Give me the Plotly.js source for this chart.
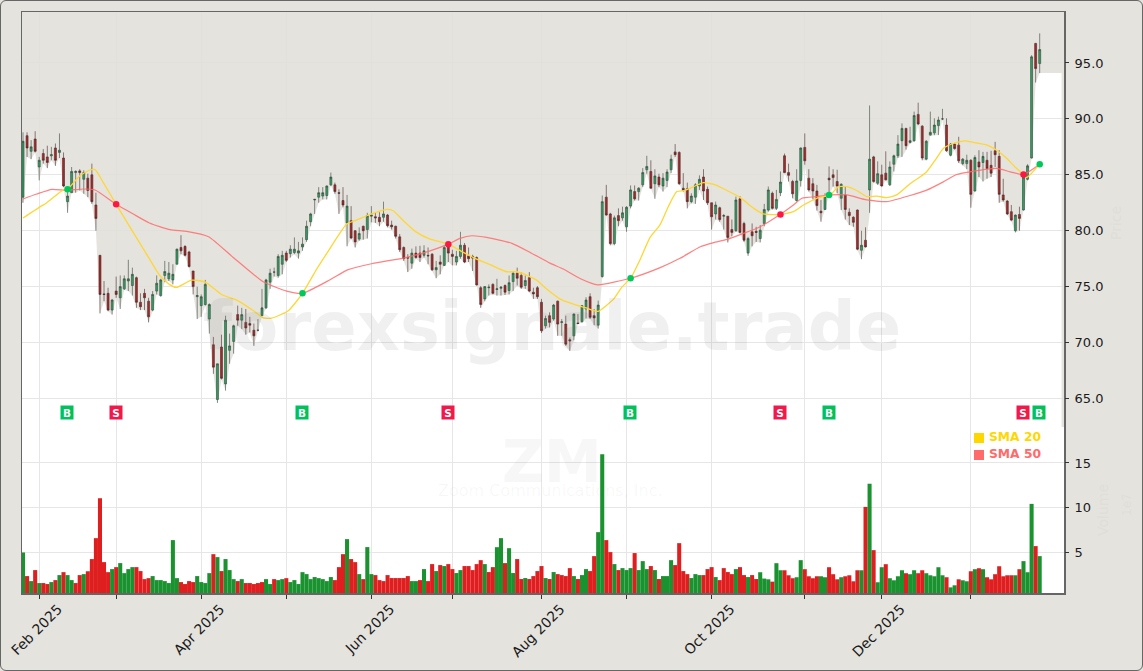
<!DOCTYPE html>
<html>
<head>
<meta charset="utf-8">
<script src="https://cdn.plot.ly/plotly-3.0.1.min.js"></script>
<style>
html,body{margin:0;padding:0;background:#fff;}
#wrap{position:relative;width:1143px;height:671px;overflow:hidden;}
#chart{position:absolute;left:0;top:0;width:1143px;height:671px;}
#frame{position:absolute;left:0;top:0;width:1143px;height:671px;box-sizing:border-box;border:1.5px solid #666;border-radius:6px;pointer-events:none;}
</style>
</head>
<body>
<div id="wrap"><div id="chart"></div><div id="frame"></div></div>
<script>
const opens=[83,88.5,87.1,88.2,85.7,86.9,86.6,86.7,87.4,87.0,
86.5,82.6,83.4,85.2,85.35,84.6,84.7,85.0,82.3,77.8,
74.35,74.4,72.9,74.6,74.0,74.8,75.5,75.1,75.8,73.6,
74.4,73.7,72.9,74.6,74.2,76.0,75.7,75.6,77,78.5,
78.6,78.1,76.4,74.1,73.3,73.4,72.1,69.8,64.9,69.6,
66.3,69.3,70.1,72.5,72,71.8,71.7,71.1,71.1,72.4,
73.1,75.4,76.3,76,77,78,77.95,78.05,78,78.55,
79.2,80.8,82.75,83,83.1,83.15,84.1,84.1,83.4,82.7,
80.7,80.9,80,79.25,80.4,80.1,81.3,81.25,81.2,81.2,
81.4,80.5,80.4,79.45,78.5,77.6,77.1,78,78,77.8,
77.8,77.9,76.5,77.2,76.9,78.8,77.9,77.2,77.7,78.7,
77.75,77.7,77.6,74.9,73.9,74.9,75.2,74.75,74.85,75.1,
74.65,75.45,76.2,76,75.1,75.8,74.5,74.9,73.6,71.5,
72.4,72.1,73.7,71.8,71.65,70.25,70.6,71.75,71.85,73,
74.1,72.4,71.55,75.9,83,81.5,78.85,81.35,81.15,80.35,
82.2,83.5,83.5,84.1,85.45,85.3,84.2,84.8,84,84.5,
85.45,87.05,87,83.8,83.75,82.6,83,84,84.8,83.7,
82.5,81.5,82.05,81.3,81.3,80.1,80,82.85,80.65,78,
79.9,79.95,79.3,80.65,81.85,83.35,82,83.4,86.7,85.2,
84.4,82.7,84.5,87.45,84.7,84.2,83.55,81.75,81.9,84.7,
85,84.4,82.9,83.2,81.65,81.2,81.85,78.25,79.15,83.65,
86.6,84.25,85,85.15,84.1,85.95,86.7,88.05,89.15,87.9,
88.05,90.4,89.35,86.4,88.55,88.75,89.4,90,89.45,86.75,
87.75,87.65,86,86,86.3,83.55,86.15,86.1,86.3,85.85,
87.15,86.65,83.2,82.65,81.7,80,81.45,81.85,84.6,86.5,
96.75,94.95];
const closes=[88,87.4,87.5,87.1,86.3,86.3,86.1,86.8,86.3,87.2,
84.0,83.1,85.3,85.3,85.2,85.2,83.6,82.6,81.1,74.3,
74.3,72.9,73.8,74.3,75,75.7,75.7,76.1,73.6,73.2,
74,72.3,74.3,75.3,75.6,76.35,76.2,76.1,78.35,78.2,
77.8,76.8,75,74.2,74.1,75.2,73.4,67.8,68.1,66.8,
72,69.7,71.5,72,72.5,71.3,71.55,70.6,71.1,73.1,
75.6,76.2,76.3,77.7,77.8,77.35,78.35,78.35,78.2,78.8,
80.4,81.5,82.8,83.4,83.4,84,84.8,83.5,83.35,82.3,
82.2,79.35,79,79.75,80,81.35,81.4,81.15,80.8,81.5,
80.45,80.35,79.5,78.3,77.5,77.55,78,77.6,77.6,78.2,
77.75,76.5,76.7,77,78.5,78,77.7,77.7,78.7,77.2,
77.5,77.55,75.15,73.4,75,74.95,74.4,74.8,74.95,74.5,
75.35,76.2,75.75,74.95,75.55,74.6,74.35,74.1,71.05,72.15,
71.8,73.35,71.65,71.85,69.85,70.15,72.55,71.7,73.3,73.8,
72.25,72.2,73.35,82.6,81.4,78.85,81.15,80.9,81.6,82.1,
83.65,82.85,83.8,85.2,85.75,83.8,84.9,84.1,84.7,85.25,
86.4,86.8,84.2,83.6,82.6,83.1,84.1,84.6,83.55,82.5,
81.25,82.3,81,81.35,79.4,79.85,82.75,79.85,79.15,79.3,
79.55,79.85,80.05,81.9,83.65,82,82.8,84.35,85.2,84.95,
83.3,84.45,87.4,86.25,83.65,83.55,82.25,81.6,83.1,84.55,
84.75,84,84.15,81.9,81.35,80.75,78.35,78.7,78.55,86.4,
84.4,85.1,84,84.55,85.7,86.7,87.75,89.15,87.6,88.05,
90.3,89.55,86.5,88,88.8,89.45,89.9,90,87.15,87.75,
87.35,86.25,86.4,86.3,83.25,86.55,85.7,86.65,85.55,85.15,
86.8,83.25,82.75,81.5,80.95,81.4,81.1,84.8,85.8,95.55,
94.5,96.2];
const highs=[88.8,88.8,88.1,88.9,86.6,87.3,87.6,87.5,87.8,88.7,
87,83.9,85.7,85.4,85.5,85.4,85.1,86,83.4,77.8,
75.5,74.9,73.9,75.9,76,76,77.4,76.7,75.9,74.4,
74.8,74,74.6,76,75.7,77.3,77.2,77,78.4,79.6,
78.7,78.2,76.4,75,74.3,75.6,73.5,70.5,68.1,70.7,
72.4,70.8,71.6,73.3,73.1,73,72.3,71.7,72.1,74.8,
75.7,76.6,76.7,77.9,78.2,78.2,78.7,79.4,79,79.4,
80.9,81.6,82.85,83.9,83.9,84.05,85.2,84.3,83.7,83.9,
83.2,82.2,80.05,80.3,80.45,81.6,82.2,81.65,81.65,82.6,
81.5,80.9,80.45,79.7,78.6,77.9,78.4,78.6,78.65,78.7,
78.5,78,77.3,77.8,78.65,78.9,78.3,78.2,79.9,78.9,
78.5,77.85,77.7,75.05,75.05,75.2,75.3,75.7,75.05,75.2,
76,76.4,76.7,76.3,76,76.3,74.9,75.05,73.9,72.4,
72.7,73.45,73.75,72.1,72.4,70.45,72.6,72.55,73.35,74.05,
74.4,73,73.75,83.15,84.1,81.6,81.35,82,82.15,82.2,
84.05,84.05,83.9,85.6,86.7,86.3,85.5,85.1,85.15,85.5,
86.8,87.75,87.1,85.15,84.3,83.35,84.25,84.95,85.5,83.95,
82.5,82.6,82.15,81.5,81.3,81,83.05,83.1,80.8,79.45,
80.65,80.35,80.5,82.4,83.95,83.5,83.65,85.3,86.9,86,
84.55,85.5,87.45,88.7,85.5,84.7,84.1,82.75,83.35,85.75,
85.5,85.45,84.25,84,82,81.3,81.9,80,80.3,91.2,
86.7,86.2,85.9,87.1,86.2,86.8,88.55,89.6,89.2,89.3,
90.65,91.45,89.45,88.1,90.65,90.05,90.2,90.9,90.05,87.85,
87.85,88.4,86.5,86.8,86.4,86.75,87.2,87.05,87.05,87.15,
87.95,87.2,84.65,82.75,82.3,81.45,82.15,85.05,85.95,95.7,
96.8,97.65];
const lows=[82.5,86.6,86.4,87,84.5,86,85.6,86.3,85.8,86.5,
83.9,81.6,83.4,83.4,83.6,83.3,83,82.4,80,72.6,
73.7,72.8,72.5,74,73,74.7,74.6,74.2,73.1,72.9,
72.9,71.8,72.8,74.3,74.1,75.4,75.5,75.2,77,77.9,
77.7,76.7,74.3,72.1,72.3,73.3,70.8,67.2,64.6,66.7,
65.7,68.1,69,71.5,71.2,70.7,70.9,69.7,71,72.4,
73,74.8,75.9,75.8,76.1,77.2,77.6,77.9,77.5,78.2,
79,80.4,81.5,82.5,82.8,82.8,84,83.3,81.5,82.1,
78.6,79.25,78.5,79.1,79.2,79.3,80.75,80.7,80.4,80.8,
80.3,80.1,79.3,78.1,77.3,76.3,76.6,77.5,77.2,77.6,
77,76.4,75.75,76.1,76.85,77.2,76.9,76.9,77.5,77.1,
77.2,76.4,75.1,73.1,73.7,74.2,74.3,74.2,74.2,74.25,
74.3,74.6,75.1,74.8,74.8,74.5,73.9,73.9,70.85,71.25,
71.35,71.95,70.6,70.6,69.7,69.25,70.2,71.65,71.8,72.15,
72.1,71.55,71.25,75.8,81.35,78.7,78.7,80.4,80.9,79.9,
82,82.7,82.7,83.9,85.1,83.75,82.85,83.9,83.5,83.9,
85.15,86.6,84.1,83.5,82,82.45,82.4,83.65,82.75,82.3,
80.1,81,80.8,80.1,78.95,79.5,79.9,79.75,79,77.75,
78.6,79,78.95,80.4,81.7,81.9,81.85,83.1,85.15,84.4,
82.9,82.6,83.95,85.9,83.5,82.8,81.8,80.8,81.85,83.2,
83.95,83.35,81.85,81,80.5,80.35,78.25,77.45,78.5,81.6,
84.3,84.1,83.95,84.5,84,85.3,86.5,86.6,87.25,87.8,
87.95,89.45,86.3,86.3,88.5,88.55,88.55,89.9,87.05,86.65,
87.25,86.05,85.85,85.5,82.05,83.5,84.8,84.4,84.65,84.8,
85.7,82.5,82.6,81.4,80.85,79.85,80,81.8,84.5,86.45,
93.25,94.1];
const volumes=[5.0,2.36,1.8,3.03,1.58,1.58,1.47,1.69,1.91,2.47,
2.8,2.47,1.91,1.58,2.47,2.58,2.9,4.26,6.6,11.06,
3.92,2.8,3.14,3.36,3.81,2.69,3.14,3.36,3.36,2.92,
2.02,2.13,2.36,1.91,1.91,1.8,1.58,6.38,2.13,1.69,
1.47,1.8,1.69,2.36,1.69,1.58,2.69,4.81,4.48,2.92,
4.26,3.03,2.02,1.8,2.02,1.58,1.58,1.47,1.58,1.69,
2.02,1.47,2.02,1.91,2.02,2.13,1.69,1.91,1.47,2.8,
2.58,2.02,2.25,2.13,2.02,1.8,2.25,1.91,3.36,4.81,
6.49,4.26,3.92,2.58,2.02,5.6,2.58,2.47,1.91,1.8,
2.47,2.14,2.14,2.14,2.14,2.36,1.8,1.8,1.91,3.14,
1.8,3.7,2.92,3.59,3.48,3.7,3.14,2.7,3.03,3.48,
3.48,3.03,3.7,4.14,3.7,2.81,3.36,5.59,6.6,3.81,
5.48,2.7,4.26,2.03,2.14,2.03,2.36,2.92,3.48,2.14,
2.03,2.81,2.58,2.47,2.36,3.25,2.36,2.03,2.47,3.14,
2.92,4.59,7.27,15.97,6.38,5.04,3.7,3.03,3.25,3.03,
3.25,4.93,3.03,4.03,3.14,3.48,3.03,2.03,2.36,2.36,
4.14,3.59,6.04,2.92,2.58,2.14,2.58,2.47,2.47,3.14,
3.36,2.25,1.91,3.25,2.81,2.58,3.14,3.36,2.47,2.25,
2.47,2.03,2.79,2.08,2.0,1.74,3.8,3.01,3.01,2.45,
2.12,2.23,4.14,3.13,2.34,2.12,2.34,2.34,2.23,3.35,
2.57,2.0,2.23,2.34,2.45,1.78,3.01,3.01,10.09,12.68,
5.26,1.67,3.35,3.69,2.12,1.89,2.34,3.01,2.68,2.57,
3.01,2.68,3.01,2.68,2.45,2.34,3.35,2.45,2.23,1.1,
1.33,2.0,1.89,1.78,2.9,3.13,3.24,3.13,2.23,2.0,
2.57,3.46,2.34,2.45,2.45,2.45,3.13,4.03,2.79,10.43,
5.71,4.59];
const volumeUp=[1,0,1,0,1,0,0,1,0,1,
0,1,1,0,0,1,0,0,0,0,
0,0,1,0,1,1,1,1,0,0,
0,0,1,1,1,1,1,1,1,0,
0,0,0,1,1,1,1,0,1,0,
1,1,1,0,1,0,0,0,0,0,
1,1,0,1,1,0,1,1,1,1,
1,1,1,1,1,1,1,0,0,0,
1,0,0,1,0,1,1,0,0,0,
0,0,0,0,0,0,1,1,0,1,
0,0,1,0,1,0,0,1,1,0,
0,0,0,0,1,0,0,1,1,0,
1,1,0,0,1,0,0,0,0,1,
0,1,0,0,0,0,1,0,1,1,
0,0,1,1,0,0,1,0,1,1,
1,0,1,1,1,0,1,0,1,1,
1,0,0,0,0,1,1,1,0,0,
0,1,0,0,0,0,1,0,0,1,
0,0,1,1,1,0,1,1,0,0,
0,1,1,0,0,0,0,1,1,0,
0,0,1,0,0,0,0,1,0,1,
0,1,1,0,1,1,1,1,0,1,
1,0,0,1,1,1,1,1,0,1,
1,0,1,1,0,1,0,1,0,0,
0,0,0,0,0,1,0,1,1,1,
0,1];
const sma20Days=[0,4,5.8,10,11,14.1,16.5,17.8,19.8,23,27.2,30.5,33.8,36.3,37.9,41.6,44.9,49,53.1,56.9,59.3,61.4,65.5,69,72.5,75.8,77.9,79.9,82,84.9,87.3,89.8,91.4,93.9,97.2,100.5,105,108.7,112,115.3,119.4,121.9,124.3,126.8,129.3,132.6,135.9,139.2,141.9,145.8,147.8,150,152.4,154.8,157.3,159.3,161.4,163.4,165.5,168,170.9,173.8,177.1,180.4,182.8,186.9,190.2,192.7,196,199.3,201.3,203.4,205.8,208.3,210.8,213.2,215.7,219,221.5,223.1,225.2,227.2,229.7,232.6,234.6,238,240.4,242.9,244.9,247,247.8,251];
const sma20=[81.13,82.09,82.48,83.67,83.73,84.93,85.43,85.46,84.33,82.36,79.85,77.91,75.97,75.16,74.93,75.58,75.43,74.3,73.73,72.84,72.21,72.18,72.84,74.4,76.57,78.42,79.6,80.6,80.9,81.34,81.67,81.91,81.79,80.9,79.85,79.25,78.8,78.06,77.46,76.96,76.33,76.33,76.03,75.58,74.78,73.88,73.43,73.07,72.78,73.88,74.93,75.75,77.46,79.4,80.55,82.15,83.5,83.6,83.94,84.3,84.1,83.6,82.96,82,81.5,81.45,81.7,82.3,82.9,83.2,83.94,83.94,83.6,83.05,83.1,82.96,83.2,84.2,84.82,85.27,86.31,87.36,87.8,88.04,87.9,87.66,87.2,86.46,85.7,85.03,84.76,85.95];
const sma50Days=[0,3.4,7.1,10.8,14.9,17.8,23,27.2,31.2,36.3,40.4,45.8,51.9,59.3,65.1,69,75.8,80.1,86.3,93.9,100.5,105,107.9,110.8,114.5,120.7,125.2,130.1,133.4,137.5,141.9,150,157.3,162.2,167.2,170.5,173.8,177.9,182,186.9,190.2,192.3,196,199.3,203.4,208.3,213.2,219,223.1,227.2,230.5,233.8,240.4,243.7,247,251];
const sma50=[82.84,83.28,83.7,83.61,83.73,83.64,82.36,81.49,80.69,80.09,79.94,79.46,77.61,75.43,74.6,74.4,75.61,76.5,77.07,77.55,78.2,78.8,79.31,79.55,79.4,78.87,78.06,77.1,76.57,75.73,75.16,75.75,76.7,77.53,78.57,78.93,79.23,79.76,80.36,81.45,82.3,82.9,83.05,83.2,83.2,82.75,82.6,83.15,83.63,84.37,85.03,85.27,85.57,85.27,85.03,85.95];
const buyDays=[11,69,150,199,251];
const buyPrices=[83.7,74.4,75.75,83.2,85.95];
const sellDays=[23,105,187,247];
const sellPrices=[82.36,78.8,81.45,85.03];
const monthTicks=[4,23,44,65,86,106,128,149,170,193,212,234];
const monthLabels=["Feb 2025","","Apr 2025","","Jun 2025","","Aug 2025","","Oct 2025","","Dec 2025",""];
const priceTicks=[65,70,75,80,85,90,95];
const priceLabels=["65.0","70.0","75.0","80.0","85.0","90.0","95.0"];
const volumeTicks=[5,10,15];
const volumeLabels=["5","10","15"];

const BG='#e5e3de', FONT='"DejaVu Sans", sans-serif', GRID='#e6e6e6';
const PRICE_TOP=99.56, PRICE_BOTTOM=47.6, VOL_TOP=65.4, VOL_BOTTOM=0.47;
const X_MIN=-0.25, X_MAX=257;
const days=opens.map((_,i)=>i);

// Background band hanging from the top edge down to the candle lows
const edgeX=days.concat([256.4,256.4,X_MAX,X_MAX,X_MIN,X_MIN]);
const edgeY=lows.concat([94.1,62.45,62.45,PRICE_TOP,PRICE_TOP,lows[0]]);

const traces=[
 {type:'scatter',mode:'lines',x:edgeX,y:edgeY,fill:'toself',fillcolor:'rgba(224,222,216,0.85)',line:{width:0},hoverinfo:'skip',showlegend:false,xaxis:'x',yaxis:'y'},
 {type:'bar',x:days,y:volumes,base:0,width:1.0,marker:{color:volumeUp.map(u=>u?'rgba(18,142,40,0.97)':'rgba(222,24,24,0.97)'),line:{width:0}},showlegend:false,xaxis:'x',yaxis:'y2'},
 {type:'candlestick',x:days,open:opens,high:highs,low:lows,close:closes,xaxis:'x',yaxis:'y3',showlegend:false,
  increasing:{line:{color:'#35453b',width:0.6},fillcolor:'#2f9f60'},
  decreasing:{line:{color:'#452a2a',width:0.6},fillcolor:'#ab2727'},whiskerwidth:0},
 {type:'scatter',mode:'lines',x:sma50Days,y:sma50,line:{color:'rgba(255,107,107,0.85)',width:1.2,shape:'spline',smoothing:0.5},showlegend:false,xaxis:'x',yaxis:'y3'},
 {type:'scatter',mode:'lines',x:sma20Days,y:sma20,line:{color:'#ffd633',width:1.3,shape:'spline',smoothing:0.5},showlegend:false,xaxis:'x',yaxis:'y3'},
 {type:'scatter',mode:'markers',x:buyDays,y:buyPrices,marker:{color:'#00c85a',size:6.5},showlegend:false,xaxis:'x',yaxis:'y3'},
 {type:'scatter',mode:'markers',x:sellDays,y:sellPrices,marker:{color:'#ff1744',size:6.5},showlegend:false,xaxis:'x',yaxis:'y3'}
];

const SIGNAL_Y=63.7;
function signalNote(day,letter,color){
 return {x:day,y:SIGNAL_Y,xref:'x',yref:'y3',text:'<b>'+letter+'</b>',showarrow:false,bgcolor:color,width:12,height:13,borderpad:0,
  font:{family:FONT,size:10.5,color:'#fff'},align:'center',valign:'middle',xshift:-0.5};
}
function paperX(px){return (px-22)/1042;}
function paperY(px){return 1-(px-12)/581;}
function faint(px,py,text,size,color,bold,angle){
 return {xref:'paper',yref:'paper',x:paperX(px),y:paperY(py),text:bold?'<b>'+text+'</b>':text,showarrow:false,
  font:{family:FONT,size:size,color:color},textangle:angle||0,xanchor:'center',yanchor:'middle'};
}
const annotations=[
 faint(552,327,'forexsignale.trade',67,'rgba(120,120,120,0.11)',true),
 faint(552,462,'ZM',58,'rgba(120,120,120,0.06)',true),
 faint(550,490,'Zoom Communications, Inc.',16,'rgba(120,120,120,0.06)',false),
 faint(1116,223,'Price',14,'#e0ded9',false,-90),
 faint(1103,510,'Volume',14,'#e0ded9',false,-90),
 faint(1127,505,'1e7',12,'#e0ded9',false,-90),
 {xref:'paper',yref:'paper',x:paperX(987),y:paperY(437),text:'<b>SMA 20</b>',showarrow:false,xanchor:'left',yanchor:'middle',font:{family:FONT,size:12.3,color:'#ffd700'}},
 {xref:'paper',yref:'paper',x:paperX(987),y:paperY(454),text:'<b>SMA 50</b>',showarrow:false,xanchor:'left',yanchor:'middle',font:{family:FONT,size:12.3,color:'#ff6b6b'}}
].concat(buyDays.map(d=>signalNote(d,'B','#00c25c'))).concat(sellDays.map(d=>signalNote(d,'S','#f3184a')));

const shapes=[
 {type:'rect',xref:'paper',yref:'paper',x0:paperX(974),x1:paperX(984),y0:paperY(443),y1:paperY(433),fillcolor:'#ffd700',line:{width:0}},
 {type:'rect',xref:'paper',yref:'paper',x0:paperX(974),x1:paperX(984),y0:paperY(460),y1:paperY(450),fillcolor:'#ff6b6b',line:{width:0}}
];

const axisFont={family:FONT,size:13,color:'#1a1a1a'};
const xAxisFont={family:FONT,size:14,color:'#1a1a1a'};
const layout={
 width:1143,height:671,autosize:false,showlegend:false,
 paper_bgcolor:BG,plot_bgcolor:'#ffffff',
 margin:{l:22,r:79,t:12,b:78,pad:0},
 font:{family:FONT},barmode:'overlay',
 xaxis:{type:'linear',range:[X_MIN,X_MAX],tickmode:'array',tickvals:monthTicks,ticktext:monthLabels,tickangle:-45,
  tickfont:xAxisFont,ticks:'outside',ticklen:4,tickcolor:'#333',showgrid:true,gridcolor:GRID,gridwidth:1,zeroline:false,
  showline:true,mirror:true,linecolor:'#666',linewidth:1.5,rangeslider:{visible:false},ticklabelshift:19,ticklabelstandoff:-3,domain:[0,1]},
 yaxis:{range:[PRICE_BOTTOM,PRICE_TOP],side:'right',tickmode:'array',tickvals:[],showgrid:false,zeroline:false,
  showline:true,mirror:true,linecolor:'#666',linewidth:1.5,anchor:'x',domain:[0,1]},
 yaxis2:{range:[VOL_BOTTOM,VOL_TOP],side:'right',overlaying:'y',anchor:'x',tickmode:'array',tickvals:volumeTicks,ticktext:volumeLabels,
  tickfont:axisFont,ticks:'outside',ticklen:4,tickcolor:'#333',showgrid:true,gridcolor:GRID,gridwidth:1,zeroline:false,ticklabelstandoff:3},
 yaxis3:{range:[PRICE_BOTTOM,PRICE_TOP],side:'right',overlaying:'y',anchor:'x',tickmode:'array',tickvals:priceTicks,ticktext:priceLabels,
  tickfont:axisFont,ticks:'outside',ticklen:4,tickcolor:'#333',showgrid:true,gridcolor:GRID,gridwidth:1,zeroline:false,ticklabelstandoff:3},
 annotations:annotations,shapes:shapes
};
Plotly.newPlot('chart',traces,layout,{displayModeBar:false,staticPlot:true});
</script>
</body>
</html>
